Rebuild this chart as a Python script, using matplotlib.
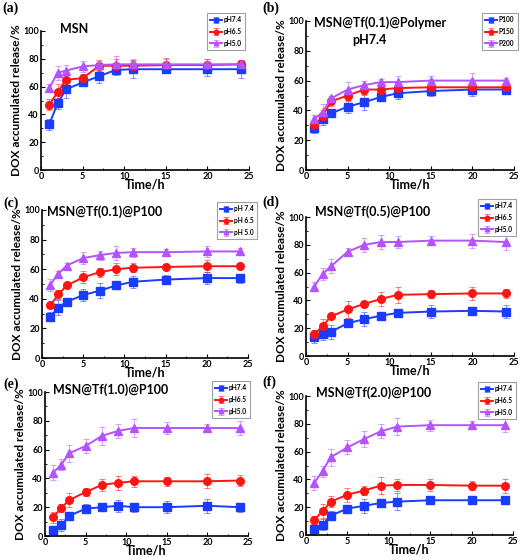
import matplotlib
matplotlib.use("Agg")
import matplotlib.pyplot as plt
from matplotlib.ticker import MultipleLocator

# Zeit (h)
t = [1, 2, 3, 5, 7, 9, 11, 15, 20, 24]

# (a) MSN
a_74 = [33, 48, 58, 63, 67.5, 72, 72.5, 72.5, 72.5, 72.5]
a_65 = [47, 56, 65, 66, 75, 75, 75, 75.5, 75.5, 76]
a_50 = [59, 70, 71.5, 74.5, 75.5, 76, 76, 76, 76, 76]
a_e74 = [4, 4, 6, 2, 5, 4, 6, 3, 5, 6]
a_e65 = [4, 6, 4, 3, 4, 5, 4, 5, 4, 3]
a_e50 = [3, 5, 4, 4, 3, 6, 4, 4, 4, 3]

# (b) MSN@Tf(0.1)@Polymer
b_100 = [28, 34, 38, 42.5, 45.5, 49, 51.5, 53, 54, 54]
b_150 = [30, 36, 46, 50, 54, 54, 55, 55.5, 55.5, 55.5]
b_200 = [34, 39, 48, 54, 57, 59, 59, 60, 60, 60]
b_e100 = [3, 4, 2, 4, 5, 2, 4, 3, 4, 3]
b_e150 = [3, 4, 3, 3, 3, 3, 3, 3, 3, 2]
b_e200 = [3, 5, 2, 5, 3, 2, 4, 3, 5, 2]

# (c) MSN@Tf(0.1)@P100
c_74 = [28, 34, 38, 42.5, 45.5, 49, 51.5, 53, 54, 54]
c_65 = [35.5, 43, 49, 54.5, 58, 60, 61, 61.5, 62, 62]
c_50 = [49.5, 57, 62.5, 67.5, 69.5, 71, 71.5, 71.5, 72, 72]
c_e74 = [3, 5, 2, 4, 5, 2, 4, 3, 4, 3]
c_e65 = [2, 3, 2, 4, 3, 4, 3, 2, 4, 2]
c_e50 = [4, 2, 2, 4, 3, 5, 3, 2, 4, 2]

# (d) MSN@Tf(0.5)@P100
d_74 = [13.5, 15.5, 17.5, 23.5, 26.5, 29, 31, 32, 32.5, 32]
d_65 = [15.5, 21.5, 28.5, 33.5, 37.5, 41, 44, 44.5, 45, 45]
d_50 = [50, 59, 64.5, 75, 80, 82, 82, 83, 83, 82]
d_e74 = [4, 4, 5, 2, 5, 2, 3, 5, 2, 5]
d_e65 = [3, 5, 2, 6, 2, 5, 6, 3, 5, 3]
d_e50 = [3, 4, 5, 3, 5, 5, 4, 3, 5, 6]

# (e) MSN@Tf(1.0)@P100
e_74 = [4, 7.5, 14, 19, 20, 21, 20, 20, 21, 20]
e_65 = [13, 19.5, 25, 30.5, 35.5, 37, 38, 38, 38, 38.5]
e_50 = [44, 49.5, 57.5, 62.5, 69.5, 73, 75, 75, 75, 75]
e_e74 = [2, 4, 3, 3, 2, 4, 3, 4, 5, 3]
e_e65 = [4, 3, 5, 3, 4, 5, 4, 3, 5, 4]
e_e50 = [5, 4, 6, 5, 6, 5, 6, 4, 3, 5]

# (f) MSN@Tf(2.0)@P100
f_74 = [4, 7.5, 14, 19, 21, 23, 24, 25, 25, 25]
f_65 = [11, 17, 24, 29, 32, 35.5, 36, 36, 35.5, 35.5]
f_50 = [37.5, 46, 56, 63, 69, 74.5, 78, 79, 79, 79]
f_e74 = [4, 4, 3, 2, 5, 3, 6, 3, 2, 3]
f_e65 = [3, 5, 4, 5, 3, 6, 4, 4, 3, 5]
f_e50 = [5, 4, 6, 5, 6, 5, 6, 4, 3, 5]

ph_labels = ["pH7.4", "pH6.5", "pH5.0"]
ph_labels_c = ["pH 7.4", "pH 6.5", "pH 5.0"]
poly_labels = ["P100", "P150", "P200"]

farben = ["#1a3cff", "#ff1414", "#b453ff"]
marker = ["s", "o", "^"]
schrift = ["Lato", "DejaVu Sans"]

W, H = 520, 558
fig = plt.figure(figsize=(W / 100, H / 100), dpi=100)

# Achsen in Pixeln: (links, y=100, rechts, y=0); Titel (x, y oben); Legende (x, y oben); Buchstabe (x, y)
panels = [
    ("(a)", (41, 31, 249, 170), [a_74, a_65, a_50], [a_e74, a_e65, a_e50], ph_labels,
     [("MSN", 60, 23)], (207, 13), (2, 2)),
    ("(b)", (306, 21, 514, 170), [b_100, b_150, b_200], [b_e100, b_e150, b_e200], poly_labels,
     [("MSN@Tf(0.1)@Polymer", 314, 16), ("pH7.4", 352, 34)], (482, 13), (262, 2)),
    ("(c)", (42, 210, 248, 358), [c_74, c_65, c_50], [c_e74, c_e65, c_e50], ph_labels_c,
     [("MSN@Tf(0.1)@P100", 47, 205)], (217, 202), (3, 197)),
    ("(d)", (306, 217, 514, 356), [d_74, d_65, d_50], [d_e74, d_e65, d_e50], ph_labels,
     [("MSN@Tf(0.5)@P100", 315, 205)], (478, 199), (262, 196)),
    ("(e)", (45, 392, 248, 536), [e_74, e_65, e_50], [e_e74, e_e65, e_e50], ph_labels,
     [("MSN@Tf(1.0)@P100", 53, 383)], (212, 381), (3, 378)),
    ("(f)", (306, 396, 513, 535), [f_74, f_65, f_50], [f_e74, f_e65, f_e50], ph_labels,
     [("MSN@Tf(2.0)@P100", 316, 386)], (478, 382), (262, 376)),
]

for buchstabe, (l, top, r, bot), reihen, fehler, labels, titel, leg, bpos in panels:
    ax = fig.add_axes([l / W, 1 - bot / H, (r - l) / W, (bot - top) / H])
    for y, err, lab, c, m in zip(reihen, fehler, labels, farben, marker):
        linie, caps, balken = ax.errorbar(t, y, yerr=err, color=c, marker=m, ms=5.5,
                                          lw=1.4, elinewidth=0.7, capsize=2,
                                          capthick=0.7, label=lab)
        for cl in caps:
            cl.set_alpha(0.55)
        for bl in balken:
            bl.set_alpha(0.55)
    ax.set_xlim(0, 25)
    ax.set_ylim(0, 100)
    ax.xaxis.set_major_locator(MultipleLocator(5))
    ax.xaxis.set_minor_locator(MultipleLocator(2.5))
    ax.yaxis.set_major_locator(MultipleLocator(20))
    ax.yaxis.set_minor_locator(MultipleLocator(10))
    ax.tick_params(direction="in", length=3, width=0.8, labelsize=6.5, pad=1.5)
    ax.tick_params(which="minor", direction="in", length=1.5, width=0.6)
    for lbl in ax.get_xticklabels() + ax.get_yticklabels():
        lbl.set_fontweight("bold")
        lbl.set_family(schrift)
    ax.spines["top"].set_visible(False)
    ax.spines["right"].set_visible(False)
    ax.spines["left"].set_linewidth(1.2)
    ax.spines["bottom"].set_linewidth(1.2)
    ax.set_xlabel("Time/h", fontsize=9, fontweight="bold", family=schrift, labelpad=-2)
    ax.set_ylabel("DOX accumulated release/%", fontsize=8.5, fontweight="bold",
                  family=schrift, labelpad=1)
    for txt, tx, ty in titel:
        fig.text(tx / W, 1 - ty / H, txt, fontsize=9, fontweight="bold",
                 family=schrift, va="top", ha="left")
    fig.text(bpos[0] / W, 1 - bpos[1] / H, buchstabe, fontsize=10, fontweight="bold",
             family=["Liberation Serif", "DejaVu Serif"], va="top", ha="left")
    # Legende
    lg = ax.legend(loc="upper left", bbox_to_anchor=(leg[0] / W, 1 - leg[1] / H),
                   bbox_transform=fig.transFigure, prop={"family": schrift, "size": 4.8,
                                                         "weight": "bold"},
                   frameon=True, fancybox=False, edgecolor="#888888",
                   handlelength=1.8, handletextpad=0.2, borderpad=0.5,
                   labelspacing=0.7, borderaxespad=0, markerscale=0.6)
    lg.get_frame().set_linewidth(0.8)

fig.savefig("out.png", dpi=100)
